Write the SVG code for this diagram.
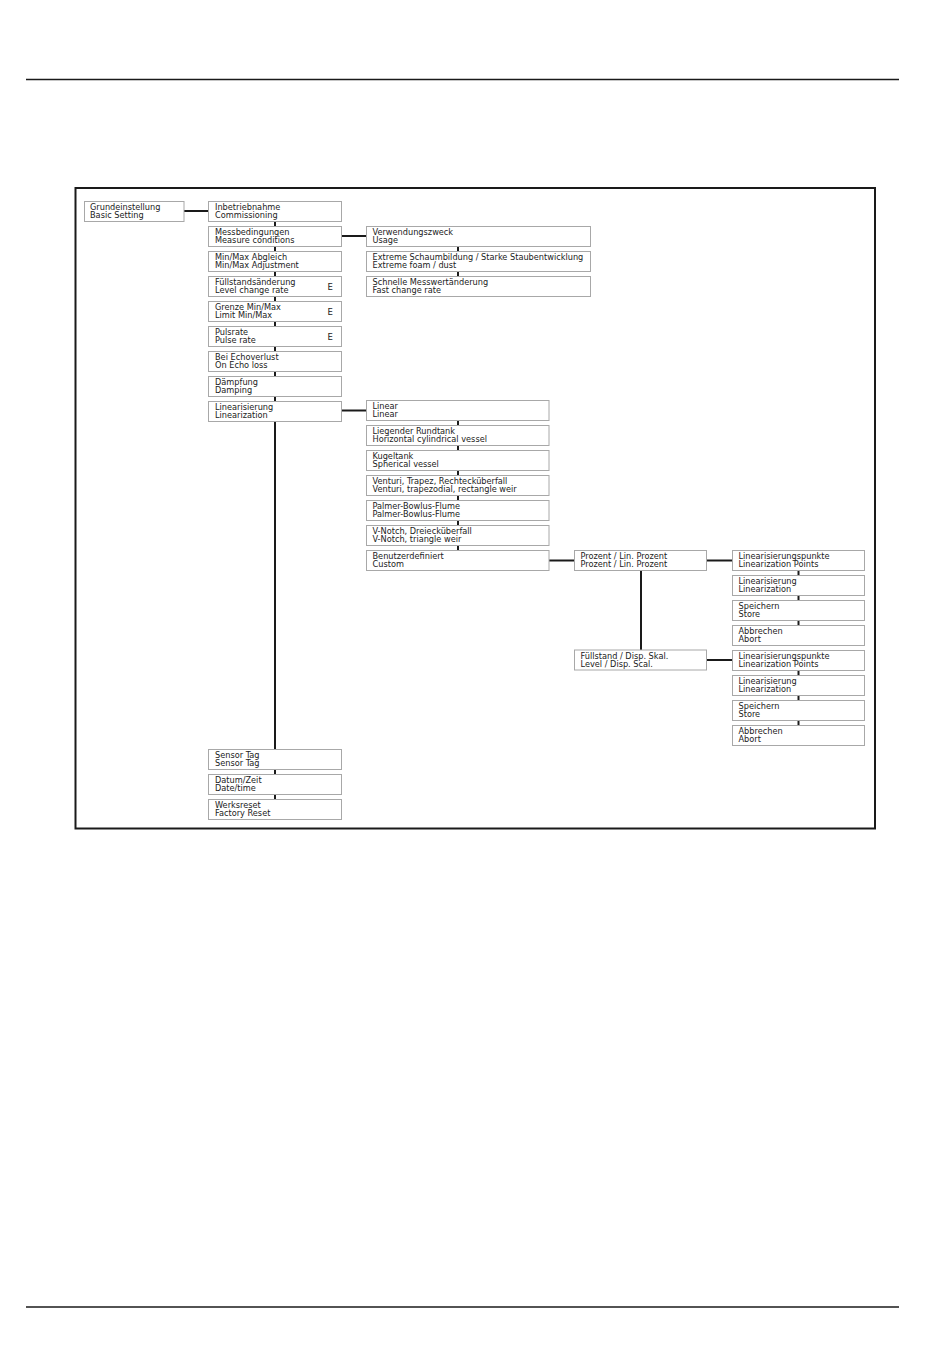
<svg xmlns="http://www.w3.org/2000/svg" width="950" height="1360" viewBox="0 0 950 1360">
<style>
.bx{fill:#fff;stroke:#a8a8a8;stroke-width:1}
.t{font-family:"DejaVu Sans","Liberation Sans",sans-serif;font-size:8.2px;fill:#222}
.e{font-family:"DejaVu Sans","Liberation Sans",sans-serif;font-size:8.5px;fill:#222}
.c{stroke:#1a1a1a;stroke-width:2;fill:none}
.rule{stroke:#1a1a1a;stroke-width:1.3}
</style>
<rect width="950" height="1360" fill="#fff"/>
<line class="rule" x1="26" y1="79.5" x2="899" y2="79.5"/>
<line class="rule" x1="26" y1="1307" x2="899" y2="1307"/>
<rect x="75.5" y="188" width="799.5" height="640.5" fill="none" stroke="#1a1a1a" stroke-width="2"/>

<g id="connectors">
<line class="c" x1="184" y1="211" x2="208.5" y2="211"/>
<line class="c" x1="341.5" y1="236" x2="366.5" y2="236"/>
<line class="c" x1="341.5" y1="410.5" x2="366.5" y2="410.5"/>
<line class="c" x1="549" y1="560.5" x2="574.5" y2="560.5"/>
<line class="c" x1="706.5" y1="560.5" x2="732.5" y2="560.5"/>
<line class="c" x1="706.5" y1="660" x2="732.5" y2="660"/>
<line class="c" x1="641" y1="570.5" x2="641" y2="650"/>
<line class="c" x1="275" y1="421" x2="275" y2="749"/>
<line class="c" x1="275" y1="221" x2="275" y2="226"/>
<line class="c" x1="275" y1="246" x2="275" y2="251"/>
<line class="c" x1="275" y1="271" x2="275" y2="276"/>
<line class="c" x1="275" y1="296" x2="275" y2="301"/>
<line class="c" x1="275" y1="321" x2="275" y2="326"/>
<line class="c" x1="275" y1="346" x2="275" y2="351"/>
<line class="c" x1="275" y1="371" x2="275" y2="376"/>
<line class="c" x1="275" y1="396" x2="275" y2="401"/>
<line class="c" x1="275" y1="769" x2="275" y2="774"/>
<line class="c" x1="275" y1="794" x2="275" y2="799"/>
<line class="c" x1="458" y1="246" x2="458" y2="251"/>
<line class="c" x1="458" y1="271" x2="458" y2="276"/>
<line class="c" x1="458" y1="420.5" x2="458" y2="425.5"/>
<line class="c" x1="458" y1="445.5" x2="458" y2="450.5"/>
<line class="c" x1="458" y1="470.5" x2="458" y2="475.5"/>
<line class="c" x1="458" y1="495.5" x2="458" y2="500.5"/>
<line class="c" x1="458" y1="520.5" x2="458" y2="525.5"/>
<line class="c" x1="458" y1="545.5" x2="458" y2="550.5"/>
<line class="c" x1="798.5" y1="570.5" x2="798.5" y2="575.5"/>
<line class="c" x1="798.5" y1="595.5" x2="798.5" y2="600.5"/>
<line class="c" x1="798.5" y1="620.5" x2="798.5" y2="625.5"/>
<line class="c" x1="798.5" y1="670.5" x2="798.5" y2="675.5"/>
<line class="c" x1="798.5" y1="695.5" x2="798.5" y2="700.5"/>
<line class="c" x1="798.5" y1="720.5" x2="798.5" y2="725.5"/>
</g>

<g id="n-basic"><rect class="bx" x="84.5" y="201.5" width="99.5" height="20"/><text class="t" x="90" y="210">Grundeinstellung</text><text class="t" x="90" y="218">Basic Setting</text></g>

<g id="n-commissioning"><rect class="bx" x="208.5" y="201.5" width="133" height="20"/><text class="t" x="215" y="210">Inbetriebnahme</text><text class="t" x="215" y="218">Commissioning</text></g>
<g id="n-measure"><rect class="bx" x="208.5" y="226.5" width="133" height="20"/><text class="t" x="215" y="235">Messbedingungen</text><text class="t" x="215" y="243">Measure conditions</text></g>
<g id="n-minmax"><rect class="bx" x="208.5" y="251.5" width="133" height="20"/><text class="t" x="215" y="260">Min/Max Abgleich</text><text class="t" x="215" y="268">Min/Max Adjustment</text></g>
<g id="n-level"><rect class="bx" x="208.5" y="276.5" width="133" height="20"/><text class="t" x="215" y="285">Füllstandsänderung</text><text class="t" x="215" y="293">Level change rate</text><text class="e" x="327.5" y="289.5">E</text></g>
<g id="n-limit"><rect class="bx" x="208.5" y="301.5" width="133" height="20"/><text class="t" x="215" y="310">Grenze Min/Max</text><text class="t" x="215" y="318">Limit Min/Max</text><text class="e" x="327.5" y="314.5">E</text></g>
<g id="n-pulse"><rect class="bx" x="208.5" y="326.5" width="133" height="20"/><text class="t" x="215" y="335">Pulsrate</text><text class="t" x="215" y="343">Pulse rate</text><text class="e" x="327.5" y="339.5">E</text></g>
<g id="n-echo"><rect class="bx" x="208.5" y="351.5" width="133" height="20"/><text class="t" x="215" y="360">Bei Echoverlust</text><text class="t" x="215" y="368">On Echo loss</text></g>
<g id="n-damping"><rect class="bx" x="208.5" y="376.5" width="133" height="20"/><text class="t" x="215" y="385">Dämpfung</text><text class="t" x="215" y="393">Damping</text></g>
<g id="n-linearization"><rect class="bx" x="208.5" y="401.5" width="133" height="20"/><text class="t" x="215" y="410">Linearisierung</text><text class="t" x="215" y="418">Linearization</text></g>
<g id="n-sensortag"><rect class="bx" x="208.5" y="749.5" width="133" height="20"/><text class="t" x="215" y="758">Sensor Tag</text><text class="t" x="215" y="766">Sensor Tag</text></g>
<g id="n-date"><rect class="bx" x="208.5" y="774.5" width="133" height="20"/><text class="t" x="215" y="783">Datum/Zeit</text><text class="t" x="215" y="791">Date/time</text></g>
<g id="n-reset"><rect class="bx" x="208.5" y="799.5" width="133" height="20"/><text class="t" x="215" y="808">Werksreset</text><text class="t" x="215" y="816">Factory Reset</text></g>

<g id="n-usage"><rect class="bx" x="366.5" y="226.5" width="224" height="20"/><text class="t" x="372.5" y="235">Verwendungszweck</text><text class="t" x="372.5" y="243">Usage</text></g>
<g id="n-foam"><rect class="bx" x="366.5" y="251.5" width="224" height="20"/><text class="t" x="372.5" y="260">Extreme Schaumbildung / Starke Staubentwicklung</text><text class="t" x="372.5" y="268">Extreme foam / dust</text></g>
<g id="n-fast"><rect class="bx" x="366.5" y="276.5" width="224" height="20"/><text class="t" x="372.5" y="285">Schnelle Messwertänderung</text><text class="t" x="372.5" y="293">Fast change rate</text></g>

<g id="n-linear"><rect class="bx" x="366.5" y="400.5" width="182.5" height="20"/><text class="t" x="372.5" y="409">Linear</text><text class="t" x="372.5" y="417">Linear</text></g>
<g id="n-horizontal"><rect class="bx" x="366.5" y="425.5" width="182.5" height="20"/><text class="t" x="372.5" y="434">Liegender Rundtank</text><text class="t" x="372.5" y="442">Horizontal cylindrical vessel</text></g>
<g id="n-spherical"><rect class="bx" x="366.5" y="450.5" width="182.5" height="20"/><text class="t" x="372.5" y="459">Kugeltank</text><text class="t" x="372.5" y="467">Spherical vessel</text></g>
<g id="n-venturi"><rect class="bx" x="366.5" y="475.5" width="182.5" height="20"/><text class="t" x="372.5" y="484">Venturi, Trapez, Rechtecküberfall</text><text class="t" x="372.5" y="492">Venturi, trapezodial, rectangle weir</text></g>
<g id="n-palmer"><rect class="bx" x="366.5" y="500.5" width="182.5" height="20"/><text class="t" x="372.5" y="509">Palmer-Bowlus-Flume</text><text class="t" x="372.5" y="517">Palmer-Bowlus-Flume</text></g>
<g id="n-vnotch"><rect class="bx" x="366.5" y="525.5" width="182.5" height="20"/><text class="t" x="372.5" y="534">V-Notch, Dreiecküberfall</text><text class="t" x="372.5" y="542">V-Notch, triangle weir</text></g>
<g id="n-custom"><rect class="bx" x="366.5" y="550.5" width="182.5" height="20"/><text class="t" x="372.5" y="559">Benutzerdefiniert</text><text class="t" x="372.5" y="567">Custom</text></g>

<g id="n-percent"><rect class="bx" x="574.5" y="550.5" width="132" height="20"/><text class="t" x="580.5" y="559">Prozent / Lin. Prozent</text><text class="t" x="580.5" y="567">Prozent / Lin. Prozent</text></g>
<g id="n-levelscal"><rect class="bx" x="574.5" y="650" width="132" height="20"/><text class="t" x="580.5" y="658.5">Füllstand / Disp. Skal.</text><text class="t" x="580.5" y="666.5">Level / Disp. Scal.</text></g>

<g id="n-p-points"><rect class="bx" x="732.5" y="550.5" width="132" height="20"/><text class="t" x="738.5" y="559">Linearisierungspunkte</text><text class="t" x="738.5" y="567">Linearization Points</text></g>
<g id="n-p-lin"><rect class="bx" x="732.5" y="575.5" width="132" height="20"/><text class="t" x="738.5" y="584">Linearisierung</text><text class="t" x="738.5" y="592">Linearization</text></g>
<g id="n-p-store"><rect class="bx" x="732.5" y="600.5" width="132" height="20"/><text class="t" x="738.5" y="609">Speichern</text><text class="t" x="738.5" y="617">Store</text></g>
<g id="n-p-abort"><rect class="bx" x="732.5" y="625.5" width="132" height="20"/><text class="t" x="738.5" y="634">Abbrechen</text><text class="t" x="738.5" y="642">Abort</text></g>
<g id="n-l-points"><rect class="bx" x="732.5" y="650.5" width="132" height="20"/><text class="t" x="738.5" y="659">Linearisierungspunkte</text><text class="t" x="738.5" y="667">Linearization Points</text></g>
<g id="n-l-lin"><rect class="bx" x="732.5" y="675.5" width="132" height="20"/><text class="t" x="738.5" y="684">Linearisierung</text><text class="t" x="738.5" y="692">Linearization</text></g>
<g id="n-l-store"><rect class="bx" x="732.5" y="700.5" width="132" height="20"/><text class="t" x="738.5" y="709">Speichern</text><text class="t" x="738.5" y="717">Store</text></g>
<g id="n-l-abort"><rect class="bx" x="732.5" y="725.5" width="132" height="20"/><text class="t" x="738.5" y="734">Abbrechen</text><text class="t" x="738.5" y="742">Abort</text></g>
</svg>
